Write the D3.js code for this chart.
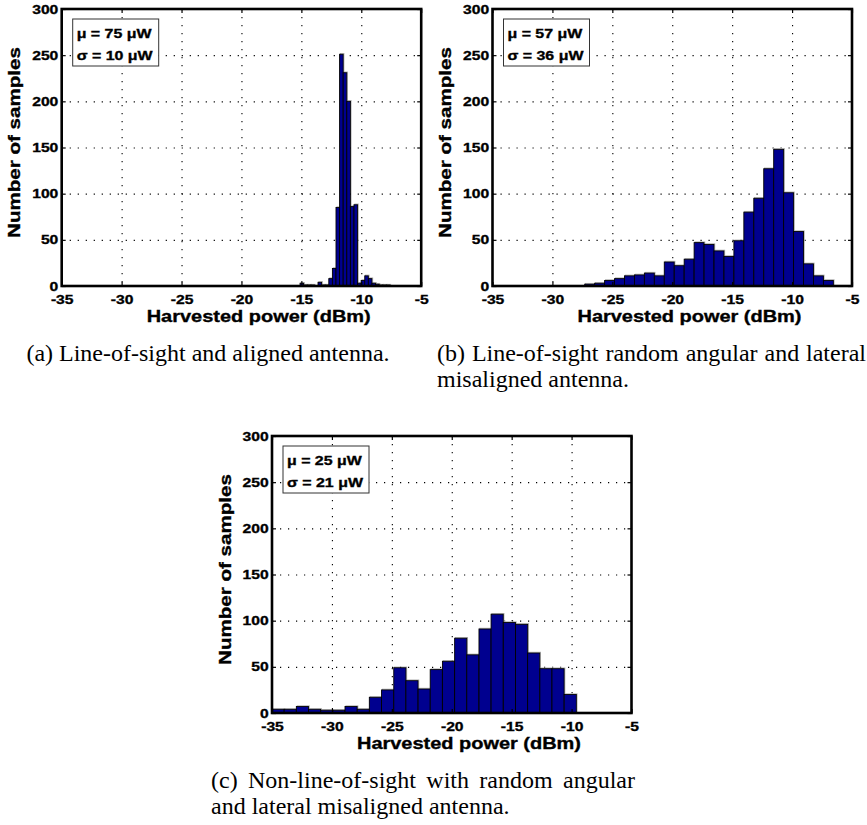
<!DOCTYPE html>
<html><head><meta charset="utf-8">
<script src="https://cdn.jsdelivr.net/npm/d3@7"></script>
<style>body{margin:0;background:#fff;} svg{display:block;}</style>
</head><body>
<svg id="chart" width="867" height="825"></svg>
<script>
// ---------- data ----------
const xTicks = [-35, -30, -25, -20, -15, -10, -5];
const yTicks = [0, 50, 100, 150, 200, 250, 300];

// (a) line-of-sight, aligned: bin centres (dBm) and counts
const binsA = [-14.96, -14.66, -14.36, -14.06, -13.76, -13.46, -13.16, -12.86, -12.56, -12.26,
               -11.96, -11.66, -11.36, -11.06, -10.76, -10.46, -10.16, -9.86, -9.56, -9.26,
               -8.96, -8.66, -8.36, -8.06, -7.76];
const countsA = [3, 1, 1, 1, 0, 4, 1, 1, 8, 19, 85, 251, 231, 200, 86, 88, 3, 6, 11, 8, 3, 2, 1, 1, 1];
const binWidthA = 0.30;

// (b) line-of-sight, random misalignment
const binsB = [-26.89, -26.06, -25.23, -24.40, -23.57, -22.74, -21.91, -21.08, -20.25, -19.42,
               -18.59, -17.76, -16.93, -16.10, -15.27, -14.44, -13.61, -12.78, -11.95, -11.12,
               -10.29, -9.46, -8.63, -7.80, -6.97];
const countsB = [2, 3, 6, 8, 11, 12, 14, 11, 26, 22, 29, 47, 45, 38, 32, 49, 80, 95, 127, 148, 101, 59, 24, 11, 6];
const binWidthB = 0.83;

// (c) non-line-of-sight, random misalignment
const binsC = [-34.49, -33.48, -32.46, -31.45, -30.43, -29.41, -28.40, -27.38, -26.37, -25.35,
               -24.33, -23.32, -22.30, -21.29, -20.27, -19.25, -18.24, -17.22, -16.21, -15.19,
               -14.17, -13.16, -12.14, -11.13, -10.11];
const countsC = [4, 4, 7, 4, 3, 3, 7, 4, 17, 25, 49, 35, 26, 47, 56, 81, 63, 91, 107, 98, 96, 65, 48, 48, 20];
const binWidthC = 1.016;

const statsA = ["\u03bc = 75 \u03bcW", "\u03c3 = 10 \u03bcW"];
const statsB = ["\u03bc = 57 \u03bcW", "\u03c3 = 36 \u03bcW"];
const statsC = ["\u03bc = 25 \u03bcW", "\u03c3 = 21 \u03bcW"];

const xLabel = "Harvested power (dBm)";
const yLabel = "Number of samples";

const captionA = ["(a) Line-of-sight and aligned antenna."];
const captionB = ["(b) Line-of-sight random angular and lateral", "misaligned antenna."];
const captionC = ["(c) Non-line-of-sight with random angular", "and lateral misaligned antenna."];

// ---------- drawing ----------
const svg = d3.select("#chart");
const SANS = "'Liberation Sans', Arial, Helvetica, sans-serif";
const SERIF = "'Liberation Serif', 'Times New Roman', Times, serif";
const SX = 1.16;
const W = 359.5, H = 277;
const BAR = "#00008f";

function boldText(sel, size) {
  return sel.style("font-family", SANS).style("font-weight", "bold").style("font-size", size)
    .attr("fill", "#000").attr("stroke", "#000").attr("stroke-width", 0.35);
}

function panel(left, top, bins, counts, binW, stats) {
  const g = svg.append("g").attr("transform", `translate(${left},${top})`);
  const x = d3.scaleLinear().domain([-35, -5]).range([0, W]);
  const y = d3.scaleLinear().domain([0, 300]).range([H, 0]);

  // dotted grid (below bars)
  const gx = g.append("g").call(d3.axisBottom(x).tickValues(xTicks.slice(1, -1)).tickSize(H).tickFormat(""));
  gx.select(".domain").remove();
  gx.selectAll("line").attr("stroke", "#000").attr("stroke-width", 1.1).attr("stroke-dasharray", "1.2,6.8");
  const gy = g.append("g").call(d3.axisLeft(y).tickValues(yTicks.slice(1, -1)).tickSize(-W).tickFormat(""));
  gy.select(".domain").remove();
  gy.selectAll("line").attr("stroke", "#000").attr("stroke-width", 1.1).attr("stroke-dasharray", "1.2,6.8");

  // bars
  const data = bins.map((c, i) => ({ c, n: counts[i] }));
  const bars = g.append("g");
  bars.selectAll("rect.sh").data(data).join("rect").attr("class", "sh")
    .attr("x", d => x(d.c - binW / 2) + 0.8)
    .attr("width", d => x(d.c + binW / 2) - x(d.c - binW / 2))
    .attr("y", d => y(d.n) - 0.8)
    .attr("height", d => y(0) - y(d.n))
    .attr("fill", "none").attr("stroke", "#b0b0b0").attr("stroke-width", 0.8);
  bars.selectAll("rect.bar").data(data).join("rect").attr("class", "bar")
    .attr("x", d => x(d.c - binW / 2))
    .attr("width", d => x(d.c + binW / 2) - x(d.c - binW / 2))
    .attr("y", d => y(d.n))
    .attr("height", d => y(0) - y(d.n))
    .attr("fill", BAR).attr("stroke", "#000").attr("stroke-width", 0.9);

  // inward ticks on four sides
  const tb = g.append("g").attr("transform", `translate(0,${H})`)
    .call(d3.axisBottom(x).tickValues(xTicks).tickSizeInner(-4).tickSizeOuter(0).tickFormat(""));
  const tt = g.append("g").call(d3.axisTop(x).tickValues(xTicks).tickSizeInner(-4).tickSizeOuter(0).tickFormat(""));
  const tl = g.append("g").call(d3.axisLeft(y).tickValues(yTicks).tickSizeInner(-4).tickSizeOuter(0).tickFormat(""));
  const tr = g.append("g").attr("transform", `translate(${W},0)`)
    .call(d3.axisRight(y).tickValues(yTicks).tickSizeInner(-4).tickSizeOuter(0).tickFormat(""));
  [tb, tt, tl, tr].forEach(a => { a.select(".domain").remove(); a.selectAll("line").attr("stroke", "#000").attr("stroke-width", 1.2); });

  // box
  g.append("rect").attr("width", W).attr("height", H)
    .attr("fill", "none").attr("stroke", "#000").attr("stroke-width", 2.6);

  // tick labels
  const lb = g.append("g").attr("transform", `translate(0,${H})`)
    .call(d3.axisBottom(x).tickValues(xTicks).tickSize(0).tickFormat(d => String(d)));
  lb.select(".domain").remove();
  boldText(lb.selectAll("text").attr("y", 0).attr("dy", null)
    .attr("transform", `translate(0,17.8) scale(${SX},1)`), "13.5px");
  const ll = g.append("g")
    .call(d3.axisLeft(y).tickValues(yTicks).tickSize(0).tickFormat(d => String(d)));
  ll.select(".domain").remove();
  boldText(ll.selectAll("text").attr("x", 0).attr("dy", "0.34em")
    .attr("transform", `translate(-3.4,-0.6) scale(${SX},1)`), "13.5px");

  // axis titles
  boldText(g.append("text").text(xLabel)
    .attr("text-anchor", "middle")
    .attr("transform", `translate(197,${H + 36}) scale(1.175,1)`), "17px");
  boldText(g.append("text").text(yLabel)
    .attr("text-anchor", "middle")
    .attr("transform", `translate(-41.4,${H / 2 - 5}) rotate(-90) scale(1.21,1)`), "17px");

  // statistics box
  const lg = g.append("g").attr("transform", "translate(11,10)");
  lg.append("rect").attr("width", 86).attr("height", 47)
    .attr("fill", "#fff").attr("stroke", "#333").attr("stroke-width", 1);
  stats.forEach((s, i) => {
    boldText(lg.append("text").text(s)
      .attr("transform", `translate(4,${19 + i * 22}) scale(1.18,1)`), "13.5px");
  });
}

function caption(lines, left, width, baseline, centred) {
  const g = svg.append("g").style("font-family", SERIF).style("font-size", "24px").attr("fill", "#000");
  const lh = 25.5;
  lines.forEach((line, li) => {
    const yy = baseline + li * lh;
    if (centred) {
      g.append("text").text(line).attr("x", left + width / 2).attr("y", yy).attr("text-anchor", "middle");
      return;
    }
    const last = li === lines.length - 1;
    if (last) {
      g.append("text").text(line).attr("x", left).attr("y", yy);
      return;
    }
    const words = line.split(" ");
    const nodes = words.map(w => g.append("text").text(w).attr("y", yy));
    const widths = nodes.map(n => n.node().getComputedTextLength());
    const total = d3.sum(widths);
    const gap = (width - total) / (words.length - 1);
    let cx = left;
    nodes.forEach((n, i) => { n.attr("x", cx); cx += widths[i] + gap; });
  });
}

panel(61.7, 9, binsA, countsA, binWidthA, statsA);
panel(492.5, 9, binsB, countsB, binWidthB, statsB);
panel(272, 436, binsC, countsC, binWidthC, statsC);

caption(captionA, -6, 428, 361, true);
caption(captionB, 437, 429, 361, false);
caption(captionC, 211, 424, 788, false);
</script>
</body></html>
